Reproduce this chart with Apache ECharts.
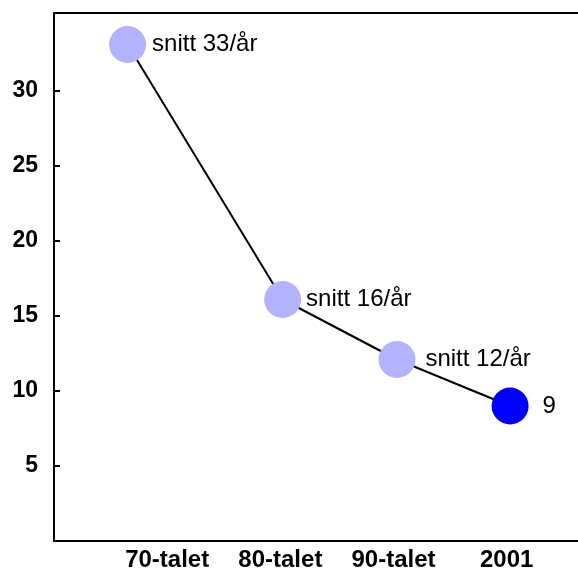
<!DOCTYPE html>
<html>
<head>
<meta charset="utf-8">
<script src="https://cdn.jsdelivr.net/npm/echarts@6/dist/echarts.min.js"></script>
<style>html,body{margin:0;padding:0;background:#fff;}#c{width:578px;height:572px;}</style>
</head>
<body>
<div id="c"></div>
<script>
var xLabels = ['70-talet', '80-talet', '90-talet', '2001'];
var pointPos = [0.65, 2.02, 3.03, 4.03];
var values = [33.1, 16.1, 12.1, 9.0];
var pointLabels = ['snitt 33/år', 'snitt 16/år', 'snitt 12/år', '9'];
var pointColors = ['#b3b3ff', '#b3b3ff', '#b3b3ff', '#0000ff'];
var labelGap = [6, 5, 10, 14];
var yTicks = [5, 10, 15, 20, 25, 30];

var data = values.map(function (v, i) {
  return {
    value: [pointPos[i], v],
    itemStyle: { color: pointColors[i] },
    label: { formatter: pointLabels[i], distance: labelGap[i] }
  };
});

var chart = echarts.init(document.getElementById('c'));
chart.setOption({
  animation: false,
  grid: { left: 54, right: 0, top: 13, bottom: 31, show: false, containLabel: false },
  xAxis: [{
    type: 'value', min: 0, max: 4.63, interval: 1,
    axisLine: { show: true, lineStyle: { color: '#000', width: 2 } },
    axisTick: { show: false },
    splitLine: { show: false },
    axisLabel: {
      margin: 7, color: '#000', fontSize: 24, fontWeight: 'bold', fontFamily: 'Liberation Sans',
      showMaxLabel: false,
      formatter: function (v) { var i = Math.round(v) - 1; return (i >= 0 && i < xLabels.length) ? xLabels[i] : ''; }
    }
  }, {
    type: 'value', position: 'top', min: 0, max: 4.63,
    axisLine: { show: true, onZero: false, lineStyle: { color: '#000', width: 2 } },
    axisTick: { show: false }, axisLabel: { show: false }, splitLine: { show: false }
  }],
  yAxis: {
    type: 'value', min: 0, max: 35.2, interval: 5,
    axisLine: { show: true, lineStyle: { color: '#000', width: 2 } },
    axisTick: { show: true, inside: true, length: 6, customValues: yTicks, lineStyle: { color: '#000', width: 2 } },
    splitLine: { show: false },
    axisLabel: {
      margin: 16, color: '#000', fontSize: 23, fontWeight: 'bold', fontFamily: 'Liberation Sans',
      customValues: yTicks
    }
  },
  series: [{
    type: 'line',
    data: data,
    symbol: 'circle',
    symbolSize: 37,
    lineStyle: { color: '#000', width: 2 },
    label: { show: true, position: 'right', color: '#000', fontSize: 24, fontFamily: 'Liberation Sans' },
    z: 3
  }]
});
</script>
</body>
</html>
